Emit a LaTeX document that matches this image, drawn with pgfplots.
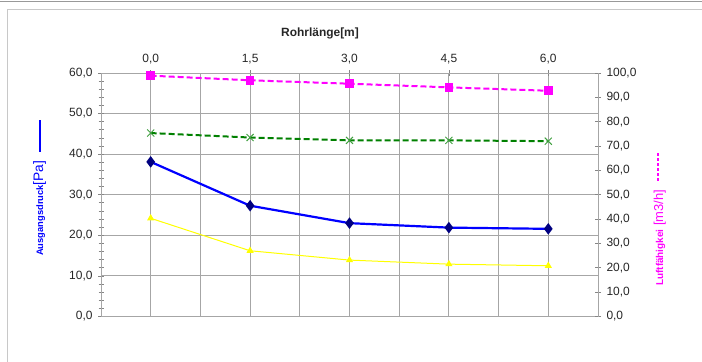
\documentclass[border=0pt]{standalone}
\usepackage{pgfplots}
\pgfplotsset{compat=1.18}
\usepackage{fontspec}
\setmainfont{Liberation Sans}
\definecolor{gridgray}{HTML}{A6A6A6}
\definecolor{navyc}{HTML}{000080}
\definecolor{pinkc}{HTML}{FF00FF}
\definecolor{greenl}{HTML}{008000}
\definecolor{greenm}{HTML}{40A040}
\definecolor{yellowc}{HTML}{FFFF00}
\definecolor{framegray}{HTML}{C8C8C8}
\begin{document}
\begin{tikzpicture}
\useasboundingbox (0,0) rectangle (702bp,362bp);
\draw[gray!80, line width=1.2bp] (0,360.5bp) -- (702bp,360.5bp);
\draw[framegray, line width=1.5bp] (7.5bp,0) -- (7.5bp,352.5bp) -- (702bp,352.5bp);

\begin{axis}[
  at={(101bp,45.5bp)}, anchor=south west, scale only axis,
  width=497bp, height=243.5bp,
  xmin=-0.75, xmax=6.75, ymin=0, ymax=60,
  xtick={0,1.5,3,4.5,6}, xtick pos=right, xticklabel pos=right,
  extra x ticks={0.75,2.25,3.75,5.25}, extra x tick labels={},
  extra x tick style={major tick length=0pt},
  ytick={0,10,...,60}, ytick pos=left, minor y tick num=4,
  xmajorgrids, ymajorgrids,
  grid style={gridgray, line width=0.9bp},
  axis line style={gridgray, line width=0.9bp},
  tick style={gridgray!80!black, line width=0.8bp},
  major tick length=6bp, minor tick length=5bp, tick align=center,
  ticklabel style={font=\fontsize{12}{14}\selectfont, text=black!85},
  xticklabel style={yshift=2bp},
  yticklabel style={xshift=-2bp},
  /pgf/number format/.cd, use comma, fixed, fixed zerofill, precision=1, assume math mode=true,
]
\addplot[yellowc, line width=1bp, mark=triangle*, mark size=3.2bp, mark options={fill=yellowc, draw=yellowc}]
  coordinates {(0,24.2)(1.5,16.2)(3,13.9)(4.5,12.9)(6,12.5)};
\addplot[greenl, line width=2bp, dash pattern=on 6bp off 3bp, mark=x, mark size=5bp, mark options={draw=greenm, line width=0.9bp, solid}]
  coordinates {(0,45.2)(1.5,44.1)(3,43.4)(4.5,43.4)(6,43.2)};
\addplot[blue, line width=2.2bp, mark=diamond*, mark size=4bp, mark options={fill=navyc, draw=navyc, solid}]
  coordinates {(0,38.1)(1.5,27.3)(3,23.0)(4.5,21.9)(6,21.6)};
\end{axis}

\begin{axis}[
  at={(101bp,45.5bp)}, anchor=south west, scale only axis,
  width=497bp, height=243.5bp,
  xmin=-0.75, xmax=6.75, ymin=0, ymax=100,
  axis x line=none, axis y line*=right,
  ytick={0,10,...,100},
  axis line style={gridgray, line width=0.9bp},
  tick style={gridgray!80!black, line width=0.8bp},
  major tick length=6bp, tick align=center,
  ticklabel style={font=\fontsize{12}{14}\selectfont, text=black!85},
  yticklabel style={xshift=2bp},
  /pgf/number format/.cd, use comma, fixed, fixed zerofill, precision=1, assume math mode=true,
]
\addplot[pinkc, line width=2bp, dash pattern=on 6bp off 3bp, mark=square*, mark size=3.3bp, mark options={fill=pinkc, draw=pinkc, solid}]
  coordinates {(0,98.9)(1.5,97.0)(3,95.6)(4.5,94.1)(6,92.7)};
\end{axis}

\node[font=\bfseries\fontsize{12}{14}\selectfont, text=black!85] at (320bp,329bp) {Rohrlänge[m]};
\node[rotate=90, anchor=base west, inner sep=0pt, text=blue] at (43bp,106bp)
  {{\bfseries\fontsize{9.4}{11}\selectfont Ausgangsdruck}{\fontsize{13.8}{16}\selectfont[Pa]}\hspace{9bp}\rule[2.5bp]{32bp}{1.2bp}};
\node[rotate=90, anchor=base west, inner sep=0pt, text=pinkc] at (663bp,76bp)
  {{\bfseries\fontsize{10}{12}\selectfont Luftfähigkei}{\fontsize{13}{15}\selectfont\ [m3/h]}\hspace{9bp}\rule[4.5bp]{3bp}{1.2bp}\hspace{2bp}\rule[4.5bp]{3bp}{1.2bp}\hspace{2bp}\rule[4.5bp]{3bp}{1.2bp}\hspace{2bp}\rule[4.5bp]{3bp}{1.2bp}\hspace{2bp}\rule[4.5bp]{3bp}{1.2bp}\hspace{2bp}\rule[4.5bp]{3bp}{1.2bp}};
\end{tikzpicture}
\end{document}
